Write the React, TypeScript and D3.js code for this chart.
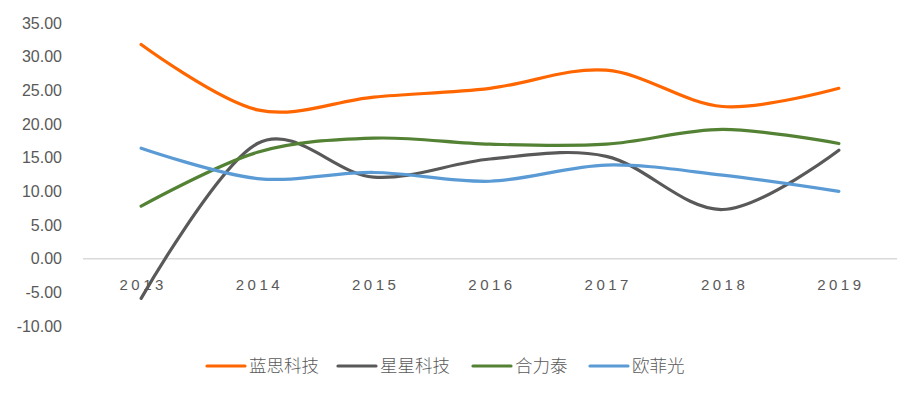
import React, { useEffect, useRef } from "react";
import * as d3 from "d3";

// data
const years = ["2013", "2014", "2015", "2016", "2017", "2018", "2019"];
const lansi = [31.8, 22.1, 24.0, 25.3, 28.0, 22.6, 25.3];
const xingxing = [-5.9, 17.1, 12.1, 14.8, 15.2, 7.3, 16.1];
const helitai = [7.8, 15.8, 17.9, 17.0, 17.0, 19.2, 17.1];
const oufeiguang = [16.4, 11.9, 12.8, 11.5, 13.9, 12.4, 10.0];
const seriesNames = ["蓝思科技", "星星科技", "合力泰", "欧菲光"];
const seriesColors = ["#FF6600", "#595959", "#548235", "#5B9BD5"];
const yTicks = [-10, -5, 0, 5, 10, 15, 20, 25, 30, 35];

const drawChart = (el: SVGSVGElement) => {
  const width = 920,
    height = 397;
  const margin = { top: 23, right: 23, bottom: 71, left: 83 };

  const svg = d3.select(el);
  svg.selectAll("*").remove();
  svg.attr("width", width).attr("height", height);

  const x = d3
    .scaleBand()
    .domain(years)
    .range([margin.left, width - margin.right]);
  const y = d3
    .scaleLinear()
    .domain([-10, 35])
    .range([height - margin.bottom, margin.top]);

  // y tick labels (no gridlines)
  svg
    .append("g")
    .selectAll("text")
    .data(yTicks)
    .enter()
    .append("text")
    .attr("x", 62)
    .attr("y", d => y(d))
    .attr("dy", "0.35em")
    .attr("text-anchor", "end")
    .attr("font-family", "Liberation Sans, Arial, sans-serif")
    .attr("font-size", 16)
    .attr("fill", "#595959")
    .text(d => d.toFixed(2));

  // zero line
  svg
    .append("line")
    .attr("x1", margin.left)
    .attr("x2", width - margin.right)
    .attr("y1", y(0))
    .attr("y2", y(0))
    .attr("stroke", "#D9D9D9")
    .attr("stroke-width", 1.5);

  // year labels
  svg
    .append("g")
    .selectAll("text")
    .data(years)
    .enter()
    .append("text")
    .attr("x", d => (x(d) as number) + x.bandwidth() / 2 + 2)
    .attr("y", y(0) + 31)
    .attr("text-anchor", "middle")
    .attr("font-family", "Liberation Sans, Arial, sans-serif")
    .attr("font-size", 15)
    .attr("letter-spacing", "3.5px")
    .attr("fill", "#595959")
    .text(d => d);

  const all = [lansi, xingxing, helitai, oufeiguang];
  const line = d3
    .line<number>()
    .x((_, i) => (x(years[i]) as number) + x.bandwidth() / 2)
    .y(d => y(d))
    .curve(d3.curveCatmullRom.alpha(0));

  svg
    .append("g")
    .selectAll("path")
    .data(all)
    .enter()
    .append("path")
    .attr("d", d => line(d))
    .attr("fill", "none")
    .attr("stroke", (_, i) => seriesColors[i])
    .attr("stroke-width", 3.2)
    .attr("stroke-linecap", "round");

  // legend
  const legendX = [207, 338, 473, 590];
  const legend = svg
    .append("g")
    .selectAll("g")
    .data(seriesNames)
    .enter()
    .append("g")
    .attr("transform", (_, i) => `translate(${legendX[i]},366)`);
  legend
    .append("line")
    .attr("x1", 0)
    .attr("x2", 38)
    .attr("stroke", (_, i) => seriesColors[i])
    .attr("stroke-width", 3.2)
    .attr("stroke-linecap", "round");
  legend
    .append("text")
    .attr("x", 42)
    .attr("dy", "0.35em")
    .attr("font-family", "Noto Sans CJK SC, sans-serif")
    .attr("font-size", 17.5)
    .attr("font-weight", 300)
    .attr("fill", "#595959")
    .text(d => d);
};

export default function App() {
  const ref = useRef<SVGSVGElement>(null);
  useEffect(() => {
    if (ref.current) drawChart(ref.current);
  }, []);
  return (
    <svg
      ref={ref}
      style={{ position: "absolute", left: 0, top: 0, background: "#fff" }}
    />
  );
}
